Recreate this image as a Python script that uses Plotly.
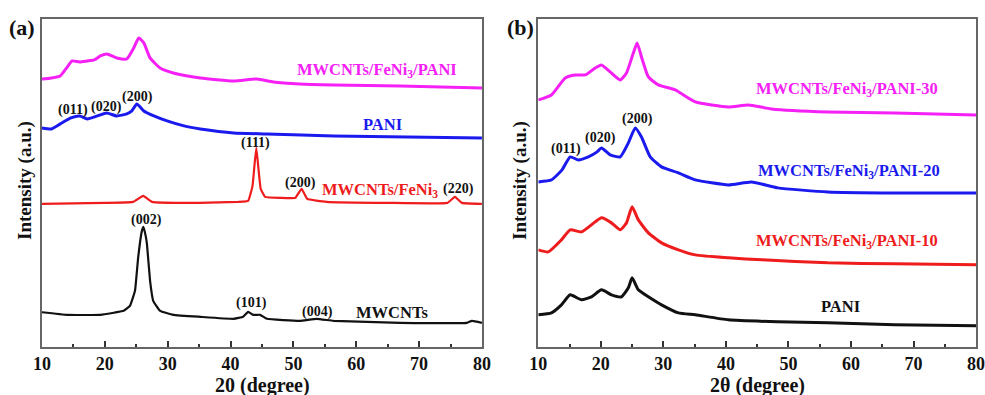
import plotly.graph_objects as go

# ---------- Panel (a) data (2theta in degrees, intensity in arbitrary units) ----------
a_mag_x = [10, 11.5, 12.9, 13.8, 14.8, 16, 17.2, 18.3, 19.3, 20.3, 21.9, 23.5, 24.6, 25.4, 26.2, 27.2, 28.8, 30.9, 35.2, 40.5, 44.2, 46.8, 51, 56.4, 67, 80]
a_mag_y = [268, 269, 271, 278, 286, 285, 286, 287, 291, 293, 289, 288, 299, 309, 304, 289, 279, 274, 269, 266, 268, 265, 263, 262, 261, 259]

a_blue_x = [10, 11.5, 12.9, 14.6, 16, 17.2, 18.8, 20.3, 21.9, 23.5, 24.3, 25.1, 26.2, 27.8, 29.9, 32.6, 35.2, 40.5, 45.8, 56.4, 80]
a_blue_y = [219, 218, 223, 229, 231, 228, 231, 234, 231, 233, 236, 243, 236, 231, 226, 221, 218, 214, 213, 211, 209]

a_red_x = [10, 20, 24.5, 26.1, 27.5, 35, 41.2, 42.8, 43.5, 43.8, 44.1, 44.4, 44.8, 45.5, 48, 50.3, 51.3, 52.2, 55.3, 65, 74.5, 75.7, 76.8, 80]
a_red_y = [143, 144, 145, 151, 145, 144, 145, 146, 161, 181, 199, 181, 158, 150, 149, 149, 158, 148, 145, 144, 144, 150, 144, 143]

a_blk_x = [10, 14, 19.3, 23, 24, 24.8, 25.3, 25.9, 26.15, 26.5, 26.7, 27.2, 27.7, 28.8, 30.9, 35.2, 40.5, 42, 42.8, 43.6, 44.7, 45.8, 51, 53.7, 56.4, 67, 77.6, 78.4, 80]
a_blk_y = [34.6, 32, 32, 36, 41, 56, 89, 116, 120, 111, 103, 66, 46, 36, 32, 30, 28, 30, 35, 32, 32, 28, 26, 28, 26, 24, 24, 26, 24]

# ---------- Panel (b) data ----------
b_mag_x = [10, 12.1, 14.3, 15.9, 17.5, 19.1, 20.1, 21.5, 23.1, 24.1, 25.2, 25.8, 26.5, 27.6, 29.2, 31.9, 35.1, 40.4, 43.6, 47.3, 56.3, 67, 80]
b_mag_y = [247, 252, 269, 272, 272, 279, 282, 275, 267, 274, 294, 304, 290, 270, 262, 257, 245, 240, 242, 238, 235, 234, 232]

b_blue_x = [10, 12.1, 13.8, 15.1, 16.4, 18.0, 19.4, 20.1, 21.5, 23.1, 24.4, 25.5, 26.5, 27.9, 29.7, 32.4, 35.1, 40.4, 44.1, 48.3, 56.3, 67, 80]
b_blue_y = [165, 167, 177, 190, 187, 190, 195, 199, 192, 190, 204, 219, 210, 190, 180, 174, 167, 162, 165, 159, 155, 154, 154]

b_red_x = [10, 11.6, 13.7, 15.1, 16.9, 19.1, 20.1, 21.7, 23.1, 24.1, 25.0, 26.0, 27.6, 29.7, 32.4, 35.1, 40.4, 45.8, 56.3, 67, 80]
b_red_y = [97, 95, 107, 117, 115, 125, 129, 124, 117, 124, 140, 127, 114, 104, 97, 92, 89, 87, 84, 83, 82]

b_blk_x = [10, 12.1, 13.7, 15.1, 16.9, 18.5, 20.1, 21.7, 23.3, 24.4, 25.0, 26.0, 27.6, 29.7, 32.4, 35.1, 40.4, 48.3, 56.3, 67, 80]
b_blk_y = [32, 34, 42, 52, 47, 50, 57, 52, 50, 59, 69, 57, 50, 42, 34, 32, 27, 25, 24, 22, 21]

x_ticks = [10, 20, 30, 40, 50, 60, 70, 80]
x_tick_labels = ["10", "20", "30", "40", "50", "60", "70", "80"]

MAG = "#f520f5"
BLUE = "#1a1aee"
RED = "#ee1c1c"
BLK = "#111111"
FONT = "Liberation Serif"

fig = go.Figure()

def add(x, y, color, width, axis, smooth=0.5):
    fig.add_trace(go.Scatter(x=x, y=y, mode="lines",
                             line=dict(color=color, width=width, shape="spline", smoothing=smooth),
                             xaxis="x" if axis == 1 else "x2", yaxis="y" if axis == 1 else "y2",
                             showlegend=False, hoverinfo="skip"))

add(a_mag_x, a_mag_y, MAG, 3, 1)
add(a_blue_x, a_blue_y, BLUE, 3, 1)
add(a_red_x, a_red_y, RED, 2.2, 1, 0.3)
add(a_blk_x, a_blk_y, BLK, 2.2, 1, 0.3)
add(b_mag_x, b_mag_y, MAG, 3, 2)
add(b_blue_x, b_blue_y, BLUE, 3, 2)
add(b_red_x, b_red_y, RED, 3, 2)
add(b_blk_x, b_blk_y, BLK, 3, 2)

xax = dict(range=[10, 80], tickvals=x_ticks, ticktext=["<b>" + t + "</b>" for t in x_tick_labels],
           ticks="inside", ticklen=6, automargin=False, ticklabeloverflow="allow",
           tickwidth=1.5, tickcolor="#333", showline=True, linecolor="#666", linewidth=1.5,
           mirror=True, showgrid=False, zeroline=False,
           tickfont=dict(family=FONT, size=18, color="#111"),
           minor=dict(ticks="inside", dtick=5, tick0=5, ticklen=3, tickcolor="#333", tickwidth=1.5))
yax = dict(range=[0, 328], showticklabels=False, ticks="", showline=True, linecolor="#666",
           linewidth=1.5, mirror=True, showgrid=False, zeroline=False, automargin=False)

fig.update_layout(
    width=985, height=395, margin=dict(l=0, r=0, t=0, b=0, autoexpand=False),
    paper_bgcolor="white", plot_bgcolor="white",
    xaxis=dict(domain=[0.0426, 0.4893], anchor="y", **xax),
    yaxis=dict(domain=[0.122, 0.952], anchor="x", **yax),
    xaxis2=dict(domain=[0.5465, 0.9909], anchor="y2", **xax),
    yaxis2=dict(domain=[0.122, 0.952], anchor="x2", **yax),
)

def ann(text, x, y, color, size, axis=1):
    fig.add_annotation(text=text, x=x, y=y, xref="x" if axis == 1 else "x2",
                       yref="y" if axis == 1 else "y2", showarrow=False,
                       font=dict(family=FONT, size=size, color=color), xanchor="center", yanchor="middle")

def B(t):
    return "<b>" + t + "</b>"

# Panel (a) labels
ann(B("MWCNTs/FeNi<sub>3</sub>/PANI"), 63.3, 277, MAG, 16.5)
ann(B("(011)"), 15.0, 237, BLK, 14)
ann(B("(020)"), 20.2, 240, BLK, 14)
ann(B("(200)"), 25.2, 250, BLK, 14)
ann(B("PANI"), 64.1, 222, BLUE, 16.5)
ann(B("(111)"), 43.9, 204, BLK, 14)
ann(B("(200)"), 51.1, 164, BLK, 14)
ann(B("MWCNTs/FeNi<sub>3</sub>"), 63.8, 157, RED, 16.5)
ann(B("(220)"), 76.2, 158, BLK, 14)
ann(B("(002)"), 26.6, 127, BLK, 14)
ann(B("(101)"), 43.4, 44, BLK, 14)
ann(B("(004)"), 53.8, 35, BLK, 14)
ann(B("MWCNTs"), 65.7, 34, BLK, 16.5)

# Panel (b) labels
ann(B("MWCNTs/FeNi<sub>3</sub>/PANI-30"), 59.3, 258, MAG, 16.5, 2)
ann(B("(011)"), 14.4, 198, BLK, 14, 2)
ann(B("(020)"), 20.0, 209, BLK, 14, 2)
ann(B("(200)"), 25.9, 228, BLK, 14, 2)
ann(B("MWCNTs/FeNi<sub>3</sub>/PANI-20"), 59.7, 176, BLUE, 16.5, 2)
ann(B("MWCNTs/FeNi<sub>3</sub>/PANI-10"), 59.3, 106, RED, 16.5, 2)
ann(B("PANI"), 58.4, 40, BLK, 16.5, 2)

def pann(text, x, y, size, angle=0):
    fig.add_annotation(text=text, x=x, y=y, xref="paper", yref="paper", showarrow=False,
                       font=dict(family=FONT, size=size, color="#111"), textangle=angle,
                       xanchor="center", yanchor="middle")

pann(B("(a)"), 0.0223, 0.9316, 22)
pann(B("(b)"), 0.528, 0.9316, 22)
pann(B("20 (degree)"), 0.266, 0.0228, 20)
pann(B("2θ (degree)"), 0.7695, 0.0228, 20)
pann(B("Intensity (a.u.)"), 0.0254, 0.542, 19, -90)
pann(B("Intensity (a.u.)"), 0.528, 0.542, 19, -90)

fig.write_html("out.html")
